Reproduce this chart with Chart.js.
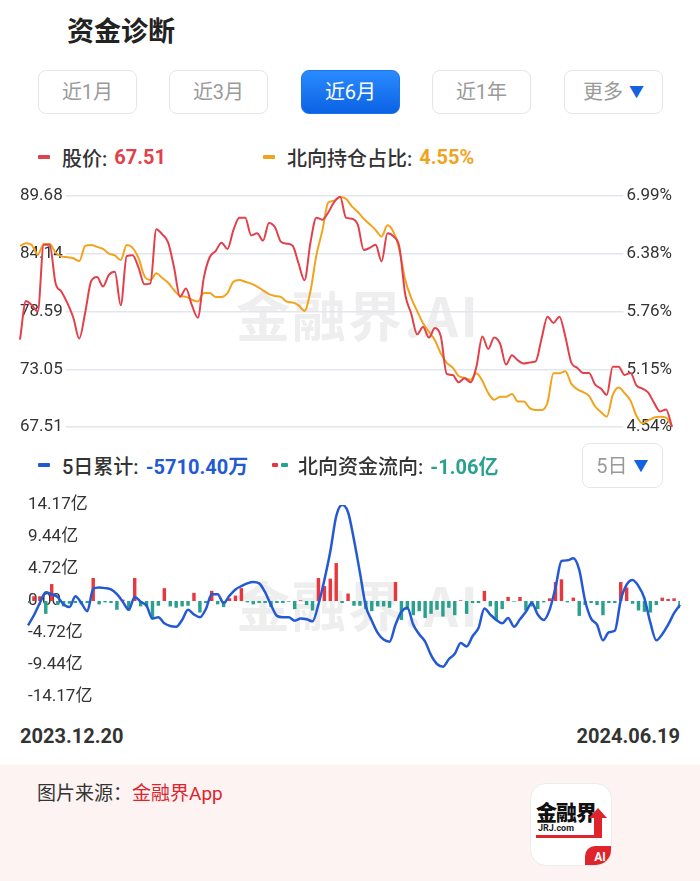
<!DOCTYPE html>
<html lang="zh-CN">
<head>
<meta charset="UTF-8">
<title>资金诊断</title>
<script src="https://cdn.jsdelivr.net/npm/chart.js@4.4.1/dist/chart.umd.min.js"></script>
<style>
    html, body { margin: 0; padding: 0; background: #fff; }
    body {
        width: 700px; height: 881px; position: relative; overflow: hidden;
        font-family: Roboto, "Noto Sans CJK SC", sans-serif; color: #333;
    }
    .abs { position: absolute; }
    .title { left: 67px; top: 11px; font-size: 27px; font-weight: 700; color: #222; font-family: "Noto Sans CJK SC", sans-serif; line-height: 38px; }
    .btn {
        top: 70px; height: 44px; width: 99px; box-sizing: border-box;
        border: 1.5px solid #e6e6e9; border-radius: 8px;
        display: flex; align-items: center; justify-content: center;
        font-size: 20px; color: #9a9a9a; padding-bottom: 3px;
    }
    .btn.on { background: linear-gradient(#2a8bff, #0b62e4); color: #fff; border-color: #1b74ef; }
    .tri { color: #1462e0; font-size: 15px; margin-left: 6px; }
    .legend { display: flex; align-items: center; height: 26px; font-size: 20px; color: #333; font-weight: 500; }
    .dash { display: inline-block; width: 12px; height: 4px; border-radius: 1px; margin-right: 12px; }
    .val { font-weight: 700; margin-left: 7px; }
    .wm { font-size: 54px; font-weight: 700; color: #eeeeee; letter-spacing: 2px; font-family: "Noto Sans CJK SC", sans-serif; line-height: 60px; }
    canvas { position: absolute; left: 0; }
    .date { top: 724px; font-size: 20px; font-weight: 700; color: #333; }
    .footer { left: 0; top: 765px; width: 700px; height: 116px; background: #fdf3f3; }
    .src { left: 37px; top: 13px; font-size: 19px; color: #333; }
    .logo {
        left: 530px; top: 18px; width: 82px; height: 83px; box-sizing: border-box;
        background: #fff; border: 1px solid #ececec; border-radius: 16px; overflow: hidden;
    }
</style>
</head>
<body>
    <div class="abs title">资金诊断</div>

    <div class="abs btn" style="left:38px">近1月</div>
    <div class="abs btn" style="left:169px">近3月</div>
    <div class="abs btn on" style="left:301px">近6月</div>
    <div class="abs btn" style="left:432px">近1年</div>
    <div class="abs btn" style="left:564px">更多<span class="tri">▼</span></div>

    <div class="abs legend" style="left:38px; top:144px">
        <span class="dash" style="background:#e2404b"></span>股价:<span class="val" style="color:#e2404b">67.51</span>
    </div>
    <div class="abs legend" style="left:263px; top:144px">
        <span class="dash" style="background:#f2a31e"></span>北向持仓占比:<span class="val" style="color:#f2a31e">4.55%</span>
    </div>

    <div class="abs wm" style="left:236px; top:284px">金融界.AI</div>
    <canvas id="priceChart" width="700" height="268" style="top:176px"></canvas>

    <div class="abs legend" style="left:38px; top:452px">
        <span class="dash" style="background:#2459d4"></span>5日累计:<span class="val" style="color:#2459d4">-5710.40万</span>
    </div>
    <div class="abs legend" style="left:272px; top:452px">
        <span class="dash" style="background:#e8383f; width:6px; margin-right:3px"></span><span class="dash" style="background:#2aa08e; width:7px; margin-right:10px"></span>北向资金流向:<span class="val" style="color:#2aa08e">-1.06亿</span>
    </div>
    <div class="abs btn" style="left:582px; top:443px; width:81px; height:45px">5日<span class="tri">▼</span></div>

    <div class="abs wm" style="left:236px; top:574px">金融界.AI</div>
    <canvas id="flowChart" width="700" height="230" style="top:486px"></canvas>

    <div class="abs date" style="left:20px">2023.12.20</div>
    <div class="abs date" style="right:20px">2024.06.19</div>

    <div class="abs footer">
        <div class="abs src">图片来源：<span style="color:#e0242c">金融界App</span></div>
        <div class="abs logo">
            <div class="abs" style="left:5px; top:12px; font-size:21px; font-weight:900; color:#111; letter-spacing:-1px; font-family:'Noto Sans CJK SC'">金融界</div>
            <div class="abs" style="left:7px; top:39px; font-size:9px; font-weight:700; color:#222">JRJ.com</div>
            <div class="abs" style="left:5px; top:51px; width:58px; height:3px; background:#e0242c"></div>
            <div class="abs" style="left:58px; top:24px; width:0; height:0; border-left:9px solid transparent; border-right:9px solid transparent; border-bottom:10px solid #e0242c"></div>
            <div class="abs" style="left:63px; top:33px; width:8px; height:21px; background:#e0242c"></div>
            <div class="abs" style="left:54px; top:62px; width:30px; height:22px; background:#e0242c; border-top-left-radius:10px; color:#fff; font-size:12px; font-weight:700; text-align:center; line-height:22px">AI</div>
        </div>
    </div>

    <script>
        // 股价
        const priceData = [
            75.9, 79.6, 79.2, 78.6, 85.0, 85.0, 81.3, 80.5, 79.4, 78.0,
            76.0, 78.5, 81.5, 81.9, 81.0, 82.1, 82.4, 79.2, 83.9, 84.0,
            82.8, 81.2, 81.3, 86.5, 86.0, 85.2, 82.8, 80.0, 80.8, 79.2,
            78.0, 81.8, 83.8, 84.4, 85.2, 84.6, 86.4, 87.6, 87.6, 85.9,
            86.1, 85.4, 87.1, 86.7, 85.3, 85.1, 84.9, 83.2, 81.6, 85.2,
            87.6, 87.4, 88.1, 89.1, 89.6, 87.6, 87.5, 86.9, 84.5, 84.7,
            85.0, 83.4, 86.1, 85.8, 84.8, 80.2, 78.4, 76.4, 77.1, 76.1,
            77.0, 76.2, 72.6, 72.5, 71.8, 72.2, 71.8, 73.3, 76.2, 75.0,
            76.1, 75.5, 73.5, 74.4, 73.9, 73.6, 73.7, 73.8, 76.0, 78.1,
            77.5, 78.1, 76.2, 73.7, 73.2, 72.7, 72.7, 71.6, 71.2, 70.6,
            73.3, 73.3, 72.5, 72.7, 71.5, 71.2, 70.8, 69.8, 69.0, 69.2,
            67.51
        ];
        // 北向持仓占比 (%)
        const holdRatio = [
            6.46, 6.49, 6.47, 6.37, 6.48, 6.48, 6.39, 6.35, 6.34, 6.33,
            6.30, 6.46, 6.47, 6.45, 6.43, 6.38, 6.36, 6.31, 6.47, 6.44,
            6.33, 6.14, 6.10, 6.17, 6.12, 6.07, 5.99, 5.93, 5.92, 5.89,
            5.87, 5.96, 5.96, 5.92, 5.92, 5.96, 6.08, 6.10, 6.08, 6.06,
            6.03, 5.99, 5.95, 5.93, 5.92, 5.87, 5.86, 5.83, 5.77, 5.98,
            6.36, 6.62, 6.92, 6.94, 6.98, 6.96, 6.88, 6.82, 6.75, 6.69,
            6.63, 6.56, 6.68, 6.61, 6.42, 6.10, 5.91, 5.77, 5.64, 5.55,
            5.46, 5.32, 5.22, 5.17, 5.08, 5.06, 5.04, 5.11, 5.03, 4.90,
            4.83, 4.86, 4.86, 4.89, 4.81, 4.81, 4.74, 4.72, 4.72, 4.80,
            5.11, 5.11, 5.13, 5.00, 4.94, 4.91, 4.87, 4.76, 4.70, 4.65,
            4.88, 4.96, 4.90, 4.82, 4.66, 4.58, 4.61, 4.64, 4.65, 4.64,
            4.55
        ];
        // 5日累计 (亿)
        const flow5Day = [
            -3.6, -2.1, -0.3, 1.3, 1.0, 0.6, -0.5, -0.9, 0.7, -0.3,
            -1.5, 1.8, 2.0, 1.9, 1.7, 1.0, -0.1, -1.3, 0.6, -0.1,
            -0.7, -2.6, -2.4, -3.3, -3.7, -3.8, -2.8, -1.3, -2.0, -2.4,
            -1.2, 1.0, 1.0, -0.3, 0.8, 1.7, 2.2, 2.6, 2.8, 2.6,
            1.3, -0.6, -2.2, -2.4, -2.4, -2.9, -2.6, -2.7, -3.0, -0.5,
            3.1, 7.3, 12.5, 14.2, 13.1, 9.0, 4.2, -0.8, -2.9, -4.7,
            -5.7, -6.0, -3.5, -1.6, -1.0, -3.5, -4.9, -6.0, -8.0, -9.3,
            -9.7, -8.6, -7.8, -6.2, -6.7, -5.2, -4.0, -1.1, -2.0, -2.8,
            -3.3, -2.5, -3.8, -2.7, -1.6, -0.3, -2.0, -2.8, -1.3, 2.0,
            5.9, 6.0, 6.3, 4.6, 0.0, -2.6, -3.5, -5.8, -4.6, -4.4,
            0.1, 2.4, 3.1, 2.2, 0.4, -3.2, -5.8, -4.9, -3.5, -1.8,
            -0.57
        ];
        // 北向资金流向 (亿)
        const flowDaily = [
            -0.3, 0.7, 0.7, -1.9, 2.5, -0.6, -0.8, -0.4, -0.3, -0.5,
            -0.3, 3.4, -0.5, -0.2, -0.3, -1.3, 0.2, -1.4, 3.4, -0.8,
            -0.8, -2.7, -0.7, 1.9, -0.8, -1.0, -0.8, -0.7, 1.2, -1.7,
            -0.3, 1.5, -0.5, -0.9, 0.4, 0.8, 1.9, -0.2, -0.5, -0.3,
            -0.3, -0.9, -0.3, -0.3, -0.1, -1.2, 0.1, -0.6, -1.4, 3.4,
            2.2, 3.3, 5.6, -0.3, 1.1, -0.7, -0.7, -1.2, -1.5, -0.8,
            -0.8, -1.0, 2.8, -2.8, -1.3, -2.1, -1.5, -2.5, -1.9, -1.3,
            -2.3, -1.0, -2.1, 0.1, -1.9, -0.3, -0.3, 1.5, -0.8, -2.8,
            -1.2, 0.6, -0.1, 0.6, -1.4, -0.8, -1.2, -0.2, 0.4, 2.8,
            3.2, -0.2, 0.5, -2.2, -0.6, -0.3, -0.6, -2.1, -0.3, -0.3,
            2.8, 2.0, -0.4, -1.4, -1.6, -1.7, -0.6, 0.5, 0.3, 0.4,
            -1.06
        ];

        const priceTicks = [67.51, 73.05, 78.59, 84.14, 89.68];
        const ratioTicks = [4.54, 5.1525, 5.765, 6.3775, 6.99];
        const ratioTickLabels = ['4.54%', '5.15%', '5.76%', '6.38%', '6.99%'];
        const flowTicks = [-14.17, -9.44, -4.72, 0, 4.72, 9.44, 14.17];
        const flowTickLabels = ['-14.17亿', '-9.44亿', '-4.72亿', '0.00', '4.72亿', '9.44亿', '14.17亿'];
        const dayLabels = priceData.map((_, i) => i);

        const tickFont = { family: 'Roboto, "Noto Sans CJK SC"', size: 17 };

        new Chart(document.getElementById('priceChart'), {
            type: 'line',
            data: {
                labels: dayLabels,
                datasets: [{
                    data: priceData,
                    yAxisID: 'yPrice',
                    borderColor: '#e2404b',
                    borderWidth: 2,
                    pointRadius: 0,
                    cubicInterpolationMode: 'monotone'
                }, {
                    data: holdRatio,
                    yAxisID: 'yRatio',
                    borderColor: '#f2a31e',
                    borderWidth: 2,
                    pointRadius: 0,
                    cubicInterpolationMode: 'monotone'
                }]
            },
            options: {
                responsive: false,
                animation: false,
                layout: { padding: { left: 20, right: 20, top: 20, bottom: 17 } },
                plugins: { legend: { display: false }, tooltip: { enabled: false } },
                scales: {
                    x: { display: false, offset: false },
                    yPrice: {
                        position: 'left',
                        min: 67.51,
                        max: 89.68,
                        afterBuildTicks: s => { s.ticks = priceTicks.map(v => ({ value: v })); },
                        grid: { color: '#e4e6ee', lineWidth: 1.5, drawTicks: false },
                        border: { display: false },
                        ticks: {
                            mirror: true, padding: 0, color: '#333', font: tickFont,
                            callback: v => v.toFixed(2),
                            showLabelBackdrop: true, backdropColor: '#fff',
                            backdropPadding: { left: 0, right: 3, top: 0, bottom: 0 }
                        }
                    },
                    yRatio: {
                        position: 'right',
                        min: 4.54,
                        max: 6.99,
                        afterBuildTicks: s => { s.ticks = ratioTicks.map(v => ({ value: v })); },
                        grid: { display: false },
                        border: { display: false },
                        ticks: {
                            mirror: true, padding: 0, color: '#333', font: tickFont,
                            callback: (v, i) => ratioTickLabels[i],
                            showLabelBackdrop: true, backdropColor: '#fff',
                            backdropPadding: { left: 3, right: 0, top: 0, bottom: 0 }
                        }
                    }
                }
            }
        });

        new Chart(document.getElementById('flowChart'), {
            type: 'bar',
            data: {
                labels: dayLabels,
                datasets: [{
                    type: 'line',
                    data: flow5Day,
                    borderColor: '#2459d4',
                    borderWidth: 2.5,
                    pointRadius: 0,
                    cubicInterpolationMode: 'monotone',
                    order: 0
                }, {
                    type: 'bar',
                    data: flowDaily,
                    backgroundColor: ctx => ctx.raw >= 0 ? '#e8383f' : '#2aa08e',
                    barPercentage: 0.58,
                    categoryPercentage: 1,
                    order: 1
                }]
            },
            options: {
                responsive: false,
                animation: false,
                layout: { padding: { left: 20, right: 20, top: 19, bottom: 19 } },
                plugins: { legend: { display: false }, tooltip: { enabled: false } },
                scales: {
                    x: { display: false, offset: false },
                    y: {
                        min: -14.17,
                        max: 14.17,
                        afterBuildTicks: s => { s.ticks = flowTicks.map(v => ({ value: v })); },
                        grid: { display: false },
                        border: { display: false },
                        ticks: {
                            mirror: true, padding: 0, color: '#333', font: tickFont,
                            callback: (v, i) => flowTickLabels[i]
                        }
                    }
                }
            }
        });
    </script>
</body>
</html>
